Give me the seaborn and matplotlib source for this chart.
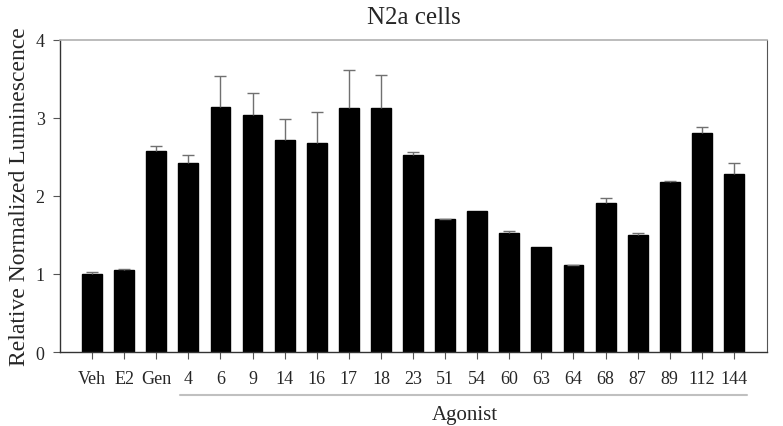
import matplotlib
matplotlib.use("Agg")
import matplotlib.pyplot as plt
import matplotlib.transforms as mtransforms
import seaborn as sns
import pandas as pd
import numpy as np

categories = ["Veh", "E2", "Gen", "4", "6", "9", "14", "16", "17", "18", "23",
              "51", "54", "60", "63", "64", "68", "87", "89", "112", "144"]
values = [1.00, 1.05, 2.58, 2.42, 3.14, 3.04, 2.72, 2.68, 3.13, 3.13, 2.53,
          1.70, 1.81, 1.52, 1.34, 1.11, 1.91, 1.50, 2.18, 2.81, 2.28]
errors = [0.02, 0.02, 0.06, 0.11, 0.40, 0.28, 0.27, 0.39, 0.48, 0.42, 0.03,
          0.01, 0.00, 0.03, 0.00, 0.01, 0.06, 0.03, 0.01, 0.07, 0.14]
y_ticks = [0, 1, 2, 3, 4]

sns.set_style("ticks")
plt.rcParams['font.family'] = ['Liberation Serif', 'DejaVu Serif']

df = pd.DataFrame({"cat": categories, "val": values})

fig = plt.figure(figsize=(7.83, 4.27), dpi=100)
ax = fig.add_axes([0.0766, 0.1733, 0.903, 0.731])

sns.barplot(data=df, x="cat", y="val", color="black", width=0.62,
            saturation=1, errorbar=None, ax=ax)
for p in ax.patches:
    p.set_edgecolor("black")

xpos = np.arange(len(categories))
has_err = np.array(errors) > 0
eb = ax.errorbar(xpos[has_err], np.array(values)[has_err],
                 yerr=[np.zeros(has_err.sum()), np.array(errors)[has_err]],
                 fmt="none", ecolor="#707070", elinewidth=1.0, capsize=4,
                 capthick=1.0)
# keep only the upper caps
eb[1][0].set_visible(False)

ax.set_xlim(-1, 21.03)
ax.set_ylim(0, 4)
ax.set_yticks(y_ticks)
ax.set_yticklabels([str(t) for t in y_ticks], fontsize=13)
ax.tick_params(axis="x", labelsize=13, length=5, width=0.8, color="#555555", pad=8)
ax.tick_params(axis="y", length=5, width=0.8, color="#555555", pad=6)
ax.set_xlabel("")
ax.set_ylabel("Relative Normalized Luminescence", fontsize=17)
ax.set_title("N2a cells", fontsize=18, pad=12)

for s in ["left", "bottom"]:
    ax.spines[s].set_color("#333333")
    ax.spines[s].set_linewidth(1.0)
for s in ["top", "right"]:
    ax.spines[s].set_visible(True)
ax.spines["top"].set_color("#b0b0b0")
ax.spines["top"].set_linewidth(1.2)
ax.spines["right"].set_color("#555555")
ax.spines["right"].set_linewidth(0.8)

trans = mtransforms.blended_transform_factory(ax.transData, ax.transAxes)
ax.plot([2.74, 20.4], [-0.138, -0.138], color="#c0c0c0", lw=1.5,
        transform=trans, clip_on=False)
ax.text(11.6, -0.2, "Agonist", transform=trans, ha="center", va="center",
        fontsize=15)

fig.savefig("out.png", dpi=100)
